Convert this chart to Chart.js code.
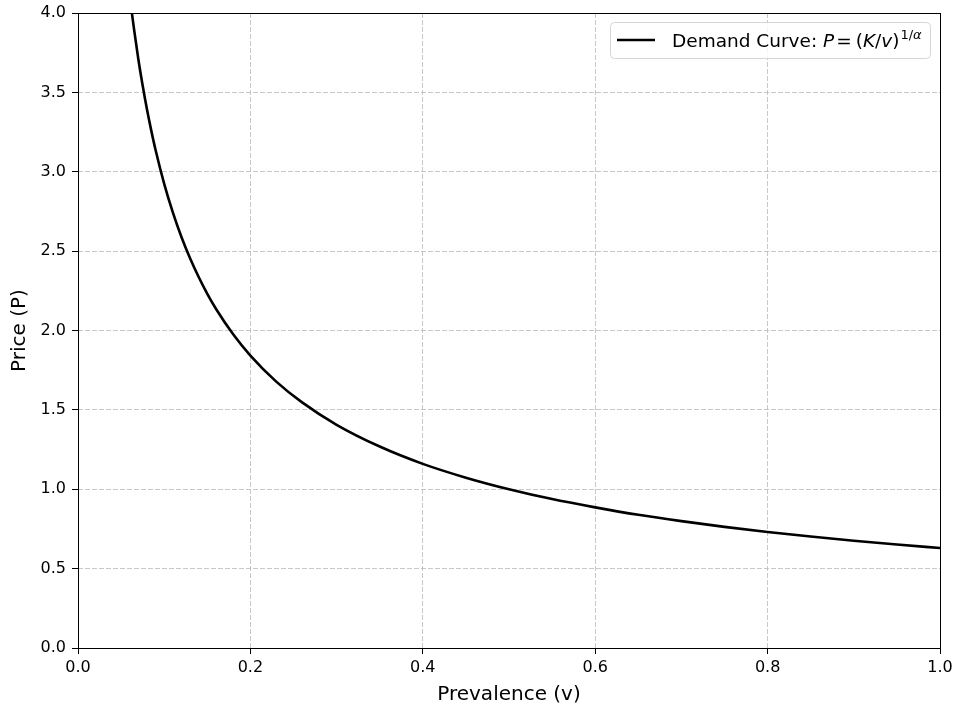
<!DOCTYPE html>
<html>
<head>
<meta charset="utf-8">
<script src="https://cdn.jsdelivr.net/npm/chart.js@4/dist/chart.umd.min.js"></script>
<style>
  html, body { margin: 0; padding: 0; background: #fff; }
  #wrap { width: 954px; height: 707px; }
</style>
</head>
<body>
<div id="wrap"><canvas id="demandChart"></canvas></div>
<script>
// Values
const prevalence = [0.0625, 0.065, 0.07, 0.075, 0.08, 0.085, 0.09, 0.10, 0.11, 0.12, 0.13, 0.14, 0.15, 0.16, 0.18,
                    0.20, 0.23, 0.26, 0.30, 0.35, 0.40, 0.45, 0.50, 0.55, 0.60, 0.65, 0.70, 0.75, 0.80, 0.85,
                    0.90, 0.95, 1.00];
const price = [4.000, 3.898, 3.709, 3.543, 3.393, 3.259, 3.137, 2.924, 2.744, 2.589, 2.455, 2.337, 2.231, 2.137, 1.976,
               1.842, 1.678, 1.547, 1.406, 1.269, 1.160, 1.073, 1.000, 0.938, 0.886, 0.839, 0.799, 0.763, 0.731, 0.702,
               0.676, 0.652, 0.630];
const xTicks = [0, 0.2, 0.4, 0.6, 0.8, 1.0];
const yTicks = [0, 0.5, 1.0, 1.5, 2.0, 2.5, 3.0, 3.5, 4.0];

const FONT = "'DejaVu Sans', sans-serif";
const gridColor = 'rgba(176,176,176,0.7)';

// frame on all four sides, like matplotlib spines
const framePlugin = {
    id: 'frame',
    afterDraw(chart) {
        const {ctx, chartArea: a} = chart;
        ctx.save();
        ctx.strokeStyle = '#000';
        ctx.lineWidth = 1;
        ctx.strokeRect(Math.round(a.left) + 0.5, Math.round(a.top) + 0.5,
                       Math.round(a.right - a.left), Math.round(a.bottom - a.top));
        ctx.restore();
    }
};

// legend with the mathtext style label
const legendPlugin = {
    id: 'mathLegend',
    afterDraw(chart) {
        const {ctx, chartArea: a} = chart;
        const right = a.right - 10, top = a.top + 9;
        const w = 320, h = 36;
        const left = right - w;
        ctx.save();
        ctx.fillStyle = 'rgba(255,255,255,0.8)';
        ctx.strokeStyle = '#d6d6d6';
        ctx.lineWidth = 1;
        ctx.beginPath();
        ctx.roundRect(left + 0.5, top + 0.5, w, h, 4);
        ctx.fill();
        ctx.stroke();

        const cy = top + h / 2;
        ctx.strokeStyle = '#000';
        ctx.lineWidth = 2.5;
        ctx.beginPath();
        ctx.moveTo(left + 7, cy);
        ctx.lineTo(left + 45, cy);
        ctx.stroke();

        ctx.fillStyle = '#000';
        ctx.textBaseline = 'alphabetic';
        const base = cy + 7;
        let x = left + 62;
        // [text, style, size, raise, gap after]
        const parts = [
            ['Demand Curve: ', 'normal', 18.5, 0, 0],
            ['P', 'italic', 18.5, 0, 2],
            ['=', 'normal', 18.5, 0, 4],
            ['(', 'normal', 18.5, 0, 0],
            ['K', 'italic', 18.5, 0, 0],
            ['/', 'normal', 18.5, 0, 0],
            ['v', 'italic', 18.5, 0, 0],
            [')', 'normal', 18.5, 0, 1],
            ['1', 'normal', 13, -8, 0],
            ['/', 'normal', 13, -8, 0],
            ['\u03b1', 'italic', 13, -8, 0]
        ];
        parts.forEach(([t, style, size, dy, gap]) => {
            ctx.font = `${style} ${size}px ${FONT}`;
            ctx.fillText(t, x, base + dy);
            x += ctx.measureText(t).width + gap;
        });
        ctx.restore();
    }
};

new Chart(document.getElementById('demandChart'), {
    type: 'scatter',
    data: {
        datasets: [{
            label: 'Demand Curve',
            data: prevalence.map((v, i) => ({x: v, y: price[i]})),
            showLine: true,
            borderColor: '#000',
            borderWidth: 2.6,
            pointRadius: 0,
            cubicInterpolationMode: 'monotone',
            fill: false
        }]
    },
    options: {
        responsive: true,
        maintainAspectRatio: false,
        animation: false,
        layout: { padding: { top: 13, right: 14, left: 0, bottom: 0 } },
        plugins: {
            legend: { display: false },
            tooltip: { enabled: false }
        },
        scales: {
            x: {
                type: 'linear',
                min: 0,
                max: 1,
                afterBuildTicks: (scale) => { scale.ticks = xTicks.map(v => ({value: v})); },
                afterFit: (scale) => {
                    scale.height = 59;
                    scale.paddingLeft = 0;
                    scale.paddingRight = 0;
                },
                ticks: {
                    color: '#000',
                    font: { family: FONT, size: 16 },
                    padding: 4,
                    maxRotation: 0,
                    callback: (v) => v.toFixed(1)
                },
                grid: {
                    color: gridColor,
                    lineWidth: 1,
                    tickColor: '#000',
                    tickLength: 6,
                    tickWidth: 1
                },
                border: { display: false, dash: [5, 2] },
                title: {
                    display: true,
                    text: 'Prevalence (v)',
                    color: '#000',
                    font: { family: FONT, size: 20 },
                    padding: { top: 0, bottom: 0 }
                }
            },
            y: {
                type: 'linear',
                min: 0,
                max: 4,
                afterBuildTicks: (scale) => { scale.ticks = yTicks.map(v => ({value: v})); },
                afterFit: (scale) => {
                    scale.width = 78;
                    scale.paddingTop = 0;
                    scale.paddingBottom = 0;
                },
                ticks: {
                    color: '#000',
                    font: { family: FONT, size: 16 },
                    padding: 6,
                    callback: (v) => v.toFixed(1)
                },
                grid: {
                    color: gridColor,
                    lineWidth: 1,
                    tickColor: '#000',
                    tickLength: 6,
                    tickWidth: 1
                },
                border: { display: false, dash: [5, 2] },
                title: {
                    display: true,
                    text: 'Price (P)',
                    color: '#000',
                    font: { family: FONT, size: 20 },
                    padding: { top: 8, bottom: 0 }
                }
            }
        }
    },
    plugins: [framePlugin, legendPlugin]
});
</script>
</body>
</html>
